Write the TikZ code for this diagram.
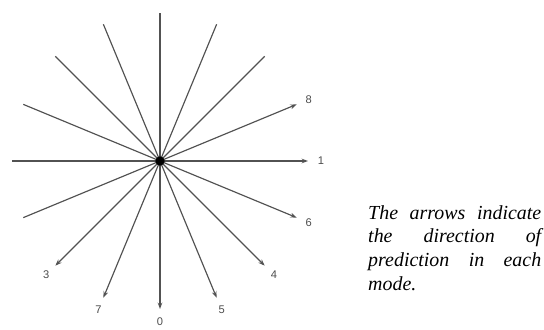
\documentclass[tikz,border=0pt]{standalone}
\usepackage{fontspec}
\setmainfont{Liberation Serif}
\setsansfont{Liberation Sans}
\usetikzlibrary{arrows.meta}
\begin{document}
\begin{tikzpicture}[x=0.3mm,y=0.3mm,
	ray/.style={line width=1pt, black!68},
	arr/.style={ray, -{Stealth[length=5.5pt,width=4pt]}},
	modelbl/.style={font=\sffamily\fontsize{9.5}{10}\selectfont, text=black!70, inner sep=0pt},
	dot/.style={circle, fill=black, inner sep=0pt, minimum size=2.8mm}]
	\useasboundingbox (0,0) rectangle (544,329);
	\coordinate (o) at (160,168);
	%lines without arrow
	\foreach \a [count=\i] in {45,67.5,90,112.5,135,157.5,180,202.5} {
		\path (o) ++(\a:148) coordinate (p\i);
		\draw [ray] (o) -- (p\i);
	}
	%prediction modes
	\foreach \a/\m in {0/1,22.5/8,-22.5/6,-45/4,-67.5/5,-90/0,-112.5/7,-135/3} {
		\path (o) ++(\a:148) coordinate (t\m);
		\draw [arr] (o) -- (t\m);
		\path (o) ++(\a:161) node [modelbl] (m\m) {\m};
	}
	\node [dot] (c) at (o) {};
	\node [anchor=north west, inner sep=0pt, text width=51.9mm, align=justify,
		font=\itshape\fontsize{17}{20.4}\selectfont] (note) at (368,124)
		{The arrows indicate\linebreak the direction of\linebreak prediction in each\linebreak mode.};
\end{tikzpicture}
\end{document}
